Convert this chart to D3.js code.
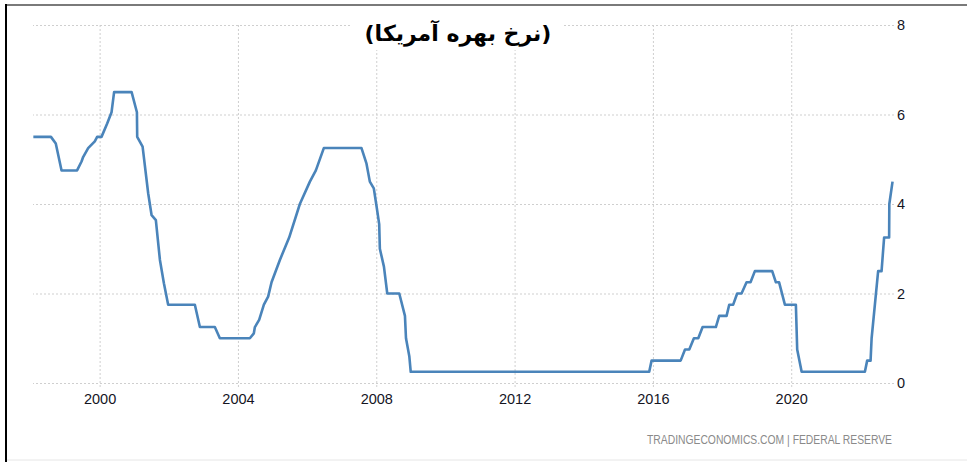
<!DOCTYPE html>
<html>
<head>
<meta charset="utf-8">
<script src="https://cdn.jsdelivr.net/npm/d3@7"></script>
<style>
  body { margin: 0; background: #fff; }
  .grid line { stroke: #cfcfcf; stroke-dasharray: 2,2; }
  .grid path { display: none; }
  .lbl path, .lbl line { display: none; }
  .lbl text { font-family: "Liberation Sans Narrow", "Liberation Sans", Arial, sans-serif; font-size: 14.5px; fill: #15151f; }
</style>
</head>
<body>
<div id="chart"></div>
<script>
//chart values (vertices of the rate line)
var rateDates = [
  "1998-01-31", "1998-08-05", "1998-09-25", "1998-11-25", "1999-05-08", "1999-06-24",
  "1999-07-11", "1999-09-02", "1999-11-11", "1999-12-06", "2000-01-21", "2000-03-21",
  "2000-05-06", "2000-06-02", "2000-12-04", "2001-01-29", "2001-02-01", "2001-03-30",
  "2001-05-28", "2001-07-03", "2001-08-17", "2001-09-29", "2001-11-10", "2001-12-25",
  "2002-10-03", "2002-11-25", "2003-05-02", "2003-06-24", "2004-05-06", "2004-06-17",
  "2004-06-28", "2004-08-12", "2004-10-01", "2004-11-15", "2004-12-21", "2005-03-19",
  "2005-06-25", "2005-10-16", "2006-01-30", "2006-04-03", "2006-06-26", "2007-07-29",
  "2007-09-20", "2007-10-25", "2007-12-06", "2008-01-04", "2008-02-01", "2008-02-08",
  "2008-03-22", "2008-04-26", "2008-08-31", "2008-10-30", "2008-11-10", "2008-12-15",
  "2008-12-30", "2015-11-23", "2015-12-18", "2016-10-20", "2016-12-05", "2017-01-19",
  "2017-03-09", "2017-04-24", "2017-06-09", "2017-10-27", "2017-12-01", "2018-02-17",
  "2018-03-17", "2018-04-28", "2018-06-09", "2018-07-25", "2018-09-16", "2018-10-28",
  "2018-12-13", "2019-06-14", "2019-07-23", "2019-08-26", "2019-10-26", "2020-02-19",
  "2020-03-04", "2020-04-20", "2022-02-17", "2022-03-13", "2022-04-18", "2022-04-29",
  "2022-07-07", "2022-08-12", "2022-09-08", "2022-10-31", "2022-11-02", "2022-12-06"
];
var rateValues = [
  5.5, 5.5, 5.35, 4.75, 4.75, 4.95,
  5.05, 5.25, 5.4, 5.5, 5.5, 5.8,
  6.05, 6.5, 6.5, 6.05, 5.5, 5.28,
  4.24, 3.75, 3.64, 2.75, 2.23, 1.75,
  1.75, 1.25, 1.25, 1.0, 1.0, 1.11,
  1.25, 1.41, 1.75, 1.93, 2.25, 2.75,
  3.25, 4.0, 4.5, 4.75, 5.25, 5.25,
  4.9, 4.5, 4.35, 3.95, 3.55, 3.0,
  2.6, 2.0, 2.0, 1.5, 1.0, 0.6,
  0.25, 0.25, 0.5, 0.5, 0.75, 0.75,
  1.0, 1.0, 1.25, 1.25, 1.5, 1.5,
  1.75, 1.75, 2.0, 2.0, 2.25, 2.25,
  2.5, 2.5, 2.25, 2.25, 1.75, 1.75,
  0.75, 0.25, 0.25, 0.5, 0.5, 1.0,
  2.5, 2.5, 3.25, 3.25, 4.0, 4.5
];
var yTicks = [0, 2, 4, 6, 8];
var xTickYears = [2000, 2004, 2008, 2012, 2016, 2020];
var titleText = "(نرخ بهره آمریکا)";
var sourceText = "TRADINGECONOMICS.COM  |  FEDERAL  RESERVE";

//page size
var svgWidth = 967;
var svgHeight = 462;

var svg = d3.select("#chart")
  .append("svg")
  .attr("width", svgWidth)
  .attr("height", svgHeight);

var parseDate = d3.timeParse("%Y-%m-%d");
var rateData = rateDates.map(function(d, i) {
  return { date: parseDate(d), rate: rateValues[i] };
});

//scales
var xScale = d3.scaleTime()
  .domain([new Date(1998, 0, 1), new Date(2023, 0, 1)])
  .range([30.5, 895]);

var yScale = d3.scaleLinear()
  .domain([0, 8])
  .range([383, 25]);

var plotLeft = 33;
var plotRight = 894;

//frame lines
svg.append("line")
  .attr("x1", 6).attr("x2", svgWidth)
  .attr("y1", 5).attr("y2", 5)
  .attr("stroke", "#7a7a7a").attr("stroke-width", 2);
svg.append("line")
  .attr("x1", 6).attr("x2", svgWidth)
  .attr("y1", 460).attr("y2", 460)
  .attr("stroke", "#e6e6e6").attr("stroke-width", 1);
svg.append("line")
  .attr("x1", 6).attr("x2", 6)
  .attr("y1", 4).attr("y2", svgHeight)
  .attr("stroke", "#000").attr("stroke-width", 2);

//horizontal grid
svg.append("g")
  .attr("class", "grid")
  .attr("transform", `translate(${plotRight}, 0)`)
  .call(d3.axisLeft(yScale).tickValues(yTicks).tickSize(plotRight - plotLeft).tickFormat(""));

//vertical grid
var xTickDates = xTickYears.map(y => new Date(y, 0, 1));
svg.append("g")
  .attr("class", "grid")
  .attr("transform", "translate(0, 25)")
  .call(d3.axisBottom(xScale).tickValues(xTickDates).tickSize(363).tickFormat(""));

//x labels
svg.append("g")
  .attr("class", "lbl")
  .attr("transform", "translate(0, 383)")
  .call(d3.axisBottom(xScale).tickValues(xTickDates).tickSize(0).tickPadding(11)
    .tickFormat(d3.timeFormat("%Y")));

//y labels
svg.append("g")
  .attr("class", "lbl")
  .attr("transform", `translate(${plotRight}, 0)`)
  .call(d3.axisRight(yScale).tickValues(yTicks).tickSize(0).tickPadding(3));

//rate line
var line = d3.line()
  .x(d => xScale(d.date))
  .y(d => yScale(d.rate));

svg.append("path")
  .datum(rateData)
  .attr("d", line)
  .attr("fill", "none")
  .attr("stroke", "#4a84ba")
  .attr("stroke-width", 2.6)
  .attr("stroke-linejoin", "round");

//title with white backing
svg.append("rect")
  .attr("x", 352).attr("y", 14)
  .attr("width", 212).attr("height", 36)
  .attr("fill", "#fff");
svg.append("text")
  .attr("x", 458)
  .attr("y", 41)
  .attr("text-anchor", "middle")
  .attr("direction", "rtl")
  .attr("font-family", "'DejaVu Sans', sans-serif")
  .attr("font-weight", "bold")
  .attr("font-size", 22)
  .attr("fill", "#000")
  .text(titleText);

//source note
svg.append("text")
  .attr("x", 647)
  .attr("y", 444)
  .attr("textLength", 245)
  .attr("lengthAdjust", "spacingAndGlyphs")
  .attr("font-family", "'Liberation Sans Narrow', 'Liberation Sans', sans-serif")
  .attr("font-size", 12)
  .attr("fill", "#8a8a8a")
  .text(sourceText);
</script>
</body>
</html>
